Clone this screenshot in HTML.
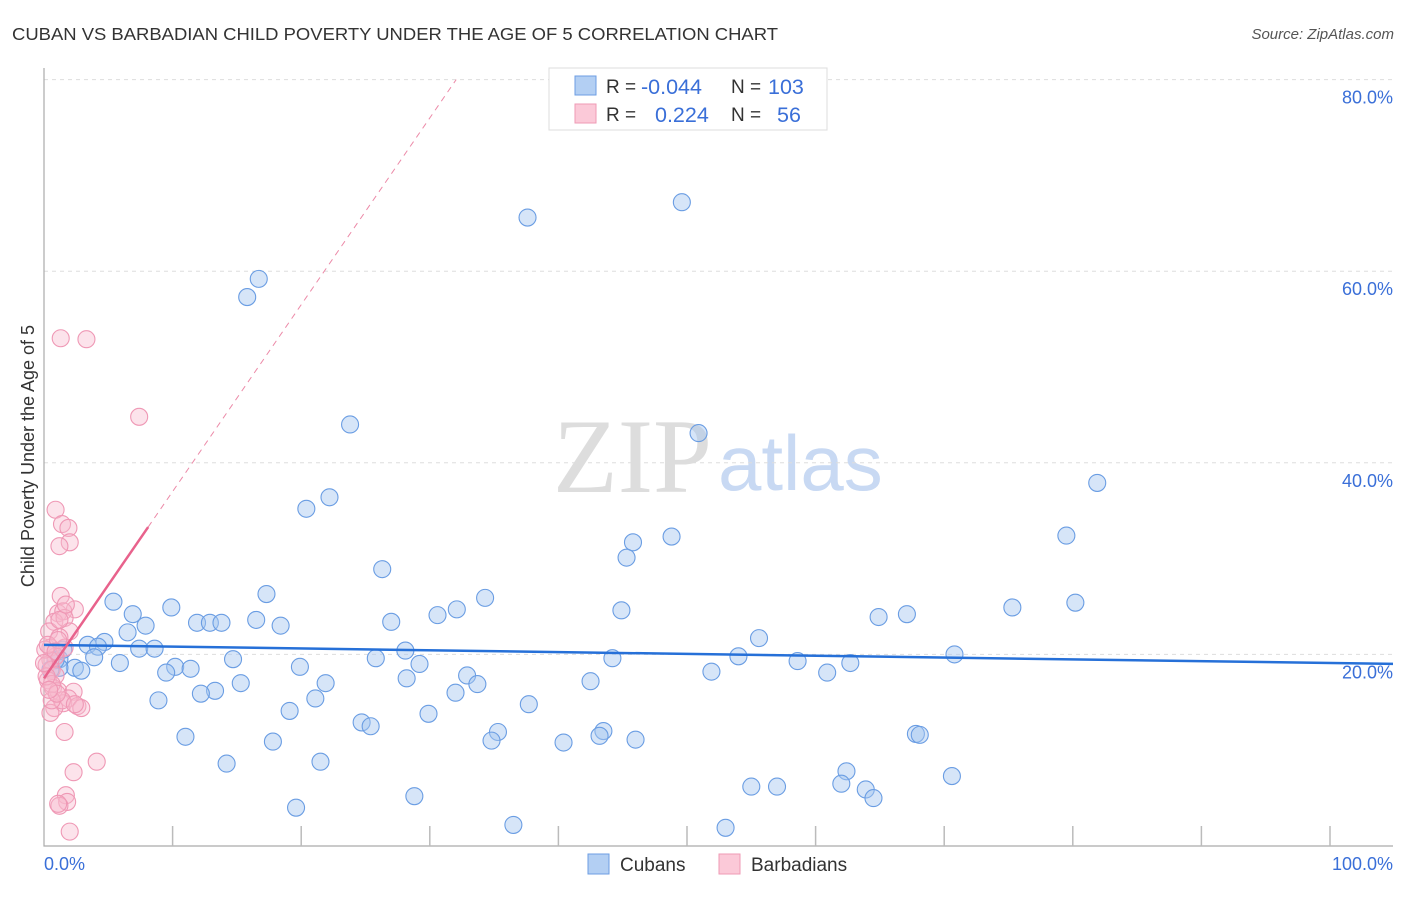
<!DOCTYPE html>
<html><head><meta charset="utf-8"><style>
body{margin:0;background:#fff;font-family:"Liberation Sans",sans-serif}
</style></head><body>
<svg width="1406" height="892" xmlns="http://www.w3.org/2000/svg">
<text x="12" y="40" font-size="17.5" fill="#333" textLength="766" lengthAdjust="spacingAndGlyphs">CUBAN VS BARBADIAN CHILD POVERTY UNDER THE AGE OF 5 CORRELATION CHART</text>
<text x="1394" y="39" font-size="15" fill="#555" font-style="italic" text-anchor="end">Source: ZipAtlas.com</text>
<text x="553" y="492" font-size="106" fill="#ddd" font-family="Liberation Serif,serif">ZIP</text>
<text x="718" y="490" font-size="78" fill="#c8d9f3">atlas</text>
<g id="grid"></g>
<g id="axes"></g>
<g id="marks"></g>
<text transform="translate(34,456) rotate(-90)" font-size="18" fill="#333" text-anchor="middle">Child Poverty Under the Age of 5</text>
<text x="44" y="870" font-size="18" fill="#3a6fd8">0.0%</text>
<text x="1393" y="870" font-size="18" fill="#3a6fd8" text-anchor="end">100.0%</text>
<g>
<rect x="549" y="68" width="278" height="62" fill="#fff" stroke="#ddd"/>
<rect x="575" y="76" width="21" height="19" fill="#b3cff3" stroke="#6c9ee3"/>
<rect x="575" y="104" width="21" height="19" fill="#fbc9d8" stroke="#ef9ab5"/>
<text x="606" y="93" font-size="19" fill="#333">R =</text>
<text x="641" y="94" font-size="21.5" fill="#3a6fd8">-0.044</text>
<text x="731" y="93" font-size="19" fill="#333">N =</text>
<text x="768" y="94" font-size="21.5" fill="#3a6fd8">103</text>
<text x="606" y="121" font-size="19" fill="#333">R =</text>
<text x="655" y="122" font-size="21.5" fill="#3a6fd8">0.224</text>
<text x="731" y="121" font-size="19" fill="#333">N =</text>
<text x="777" y="122" font-size="21.5" fill="#3a6fd8">56</text>
</g>
<g>
<rect x="588" y="854" width="21" height="20" fill="#b3cff3" stroke="#6c9ee3"/>
<text x="620" y="871" font-size="19" fill="#333">Cubans</text>
<rect x="719" y="854" width="21" height="20" fill="#fbc9d8" stroke="#ef9ab5"/>
<text x="751" y="871" font-size="19" fill="#333">Barbadians</text>
</g>
</svg>
<script>
const yTicks=[20,40,60,80];
const xTickVals=[10,20,30,40,50,60,70,80,90,100];
const cubanX=[37.6,49.6,16.7,15.8,23.8,50.9,81.9,22.2,20.4,79.5,48.8,45.8,45.3,26.3,17.3,34.3,5.4,9.9,32.1,44.9,30.6,80.2,75.3,67.1,64.9,6.9,7.9,6.5,11.9,12.9,13.8,16.5,18.4,27.0,55.6,4.7,3.4,4.2,7.4,8.6,28.1,54.0,70.8,44.2,58.6,62.7,3.9,5.9,1.2,14.7,25.8,19.9,29.2,10.2,11.4,2.4,2.9,9.5,32.9,51.9,60.9,28.2,33.7,42.5,15.3,21.9,13.3,12.2,32.0,21.1,8.9,37.7,19.1,29.9,24.7,25.4,43.5,35.3,43.2,67.8,68.1,11.0,17.8,34.8,46.0,40.4,14.2,21.5,62.4,70.6,55.0,57.0,62.0,63.9,64.5,28.8,19.6,36.5,53.0,1.2,0.9,0.5,1.5];
const cubanY=[65.6,67.2,59.2,57.3,44.0,43.1,37.9,36.4,35.2,32.4,32.3,31.7,30.1,28.9,26.3,25.9,25.5,24.9,24.7,24.6,24.1,25.4,24.9,24.2,23.9,24.2,23.0,22.3,23.3,23.3,23.3,23.6,23.0,23.4,21.7,21.3,21.0,20.8,20.6,20.6,20.4,19.8,20.0,19.6,19.3,19.1,19.7,19.1,19.5,19.5,19.6,18.7,19.0,18.7,18.5,18.6,18.3,18.1,17.8,18.2,18.1,17.5,16.9,17.2,17.0,17.0,16.2,15.9,16.0,15.4,15.2,14.8,14.1,13.8,12.9,12.5,12.0,11.9,11.5,11.7,11.6,11.4,10.9,11.0,11.1,10.8,8.6,8.8,7.8,7.3,6.2,6.2,6.5,5.9,5.0,5.2,4.0,2.2,1.9,18.6,19.4,18.4,20.5];
const barbX=[1.3,3.3,7.4,0.9,1.4,1.9,2.0,1.2,1.3,2.4,1.1,1.5,0.8,1.6,0.4,2.0,1.2,0.5,1.6,0.9,0.5,0.2,0.6,0.9,0.3,0.7,1.1,2.3,1.9,1.5,2.6,2.9,0.8,0.5,1.6,2.3,4.1,1.7,1.8,1.2,1.1,2.0,0.1,0.3,1.1,0.6,1.4,0.2,0.9,1.2,1.7,0.6,1.0,0.0,0.4,2.4];
const barbY=[53.0,52.9,44.8,35.1,33.6,33.2,31.7,31.3,26.1,24.7,24.3,24.5,23.4,23.8,22.4,22.4,21.8,20.7,20.7,19.8,19.4,18.9,18.4,17.8,17.3,16.5,16.2,16.1,15.4,14.9,14.6,14.4,14.4,13.9,11.9,7.7,8.8,5.3,4.6,4.2,4.4,1.5,20.5,21.0,21.5,16.9,15.2,17.7,20.3,23.6,25.2,15.2,15.9,19.1,16.3,14.8];
const cubanFit=[21.0,-0.019];
const barbFit=[17.5,1.95,8.1];
const X0=44,X1=1330,Y0=846,YPER=9.58;
const sx=v=>X0+v*(X1-X0)/100;
const sy=v=>Y0-v*YPER;
const NS='http://www.w3.org/2000/svg';
function mk(parent,tag,attrs){const e=document.createElementNS(NS,tag);for(const k in attrs)e.setAttribute(k,attrs[k]);document.getElementById(parent).appendChild(e);return e;}
yTicks.forEach(t=>{
 const l=mk('grid','line',{x1:44,x2:1393,y1:sy(t),y2:sy(t),stroke:'#ddd','stroke-dasharray':'4,4'});
 
 
 const tx=mk('grid','text',{x:1393,y:sy(t)+24,'font-size':18,fill:'#3a6fd8','text-anchor':'end'});
 tx.textContent=t.toFixed(1)+'%';
 
 
});
const ax=mk('axes','path',{d:'M44 68V846H1393',fill:'none',stroke:'#aaa','stroke-width':1.2});


xTickVals.forEach(t=>{
 const l=mk('axes','line',{x1:sx(t),x2:sx(t),y1:826,y2:846,stroke:'#bbb','stroke-width':1.5});
 
 
});
cubanX.forEach((x,i)=>{
 const c=mk('marks','circle',{cx:sx(x),cy:sy(cubanY[i]),r:8.5,fill:'rgba(165,198,240,0.45)',stroke:'#6a9de3','stroke-width':1.1});
 
 
});
barbX.forEach((x,i)=>{
 const c=mk('marks','circle',{cx:sx(x),cy:sy(barbY[i]),r:8.5,fill:'rgba(248,185,205,0.4)',stroke:'#ef98b5','stroke-width':1.1});
 
 
});
const bl=mk('marks','line',{x1:sx(0),y1:sy(cubanFit[0]),x2:1393,y2:sy(cubanFit[0]+cubanFit[1]*((1393-X0)/(X1-X0)*100)),stroke:'#2670d8','stroke-width':2.5});


const xe=(80-barbFit[0])/barbFit[1];
const pd=mk('marks','line',{x1:sx(barbFit[2]),y1:sy(barbFit[0]+barbFit[1]*barbFit[2]),x2:sx(xe),y2:sy(80),stroke:'#ec8aa8','stroke-width':1,'stroke-dasharray':'6,5'});


const ps=mk('marks','line',{x1:sx(0),y1:sy(barbFit[0]),x2:sx(barbFit[2]),y2:sy(barbFit[0]+barbFit[1]*barbFit[2]),stroke:'#e8628c','stroke-width':2.5});


</script>
</body></html>
